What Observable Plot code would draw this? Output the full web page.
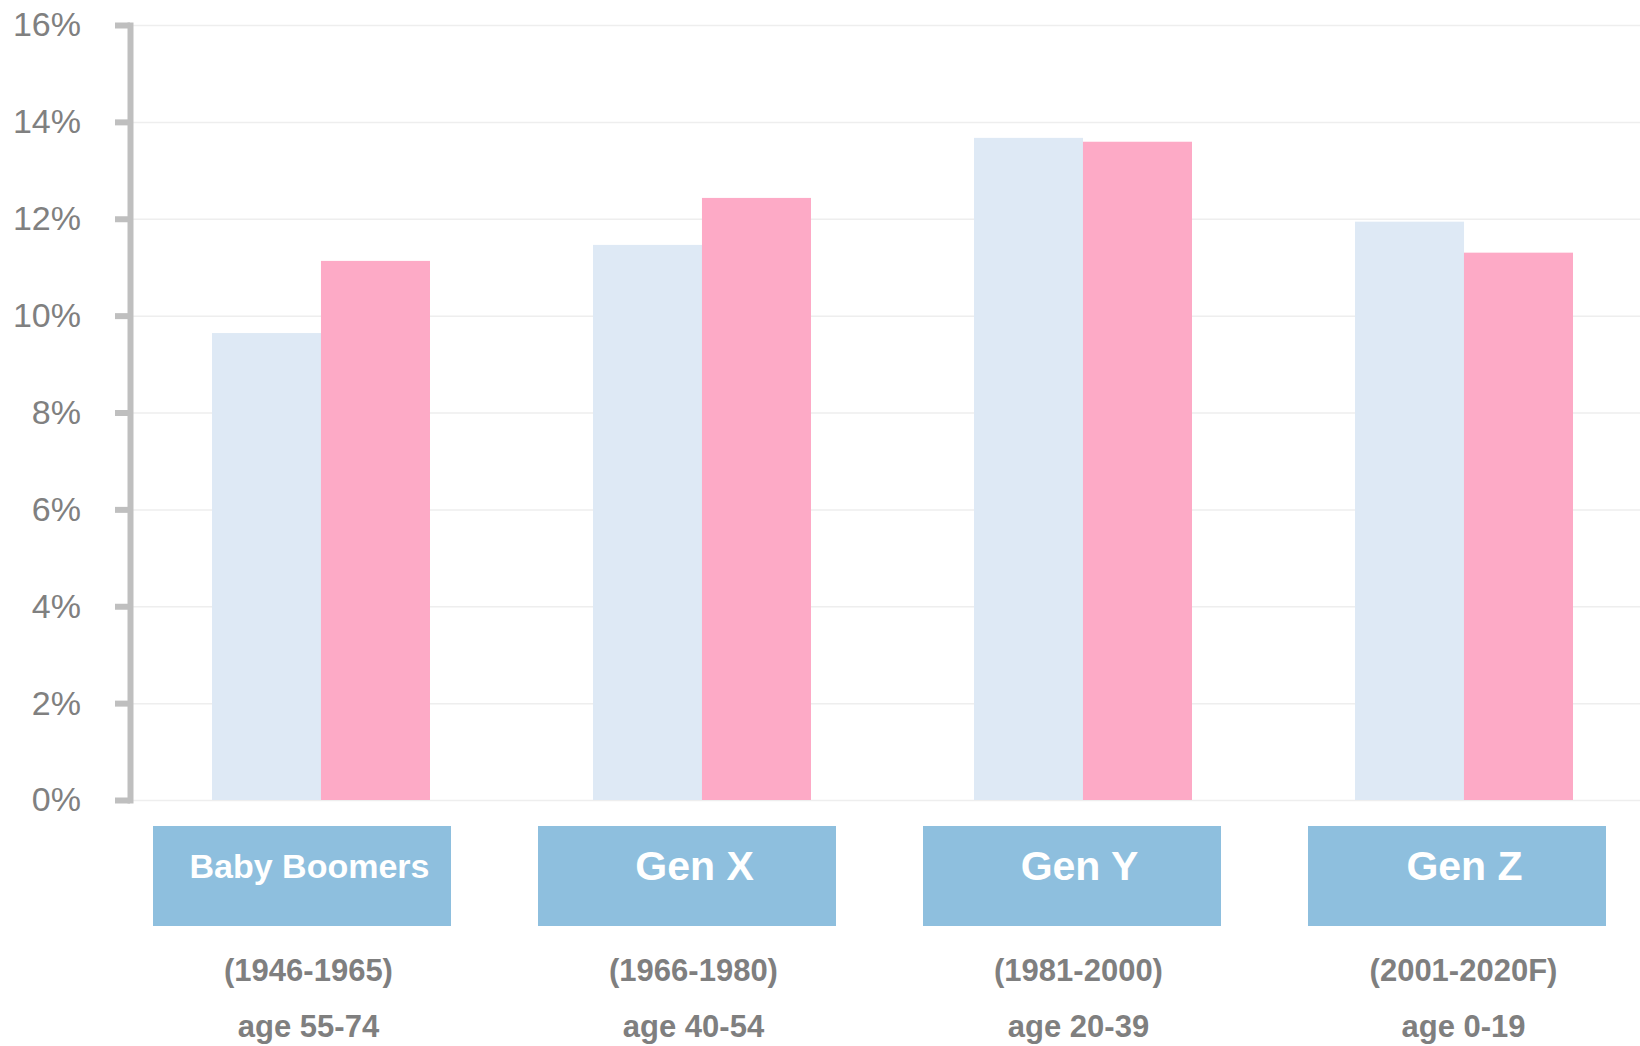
<!DOCTYPE html>
<html><head><meta charset="utf-8">
<script src="https://cdn.jsdelivr.net/npm/d3@7"></script>
<script src="https://cdn.jsdelivr.net/npm/@observablehq/plot@0.6"></script>
<style>
html,body{margin:0;padding:0;background:#fff;}
#chart svg{display:block;}
</style></head><body><div id="chart"></div>
<script>
const generations = ["Baby Boomers", "Gen X", "Gen Y", "Gen Z"];
const periods = ["(1946-1965)", "(1966-1980)", "(1981-2000)", "(2001-2020F)"];
const ages = ["age 55-74", "age 40-54", "age 20-39", "age 0-19"];
const shareA = [9.64, 11.46, 13.67, 11.94];
const shareB = [11.13, 12.43, 13.59, 11.30];
const yTicks = [0, 2, 4, 6, 8, 10, 12, 14, 16];

const rows = generations.map((g, i) => ({gen: g, a: shareA[i], b: shareB[i], period: periods[i], age: ages[i]}));

const font = "'Liberation Sans', Arial, Helvetica, sans-serif";
const xBars = {type: "band", domain: generations, range: [130.5, 1654.5], paddingInner: 0.428, paddingOuter: 0.214, axis: null};
const half = Plot.scale({x: xBars}).bandwidth / 2;

const topPlot = Plot.plot({
  width: 1640, height: 820,
  marginLeft: 130, marginRight: 0, marginTop: 25, marginBottom: 20,
  style: {fontFamily: font, background: "transparent"},
  x: xBars,
  y: {domain: [0, 16]},
  marks: [
    Plot.gridY(yTicks, {stroke: "#eeeeee", strokeOpacity: 1, strokeWidth: 1.5}),
    Plot.barY(rows, {x: "gen", y: "a", fill: "#dee9f5", insetRight: half}),
    Plot.barY(rows, {x: "gen", y: "b", fill: "#fdaac6", insetLeft: half}),
    Plot.frame({anchor: "left", stroke: "#bfbfbf", strokeWidth: 6}),
    Plot.axisY(yTicks, {anchor: "left", tickSize: 15, tickPadding: 34.5, stroke: "#bfbfbf", strokeWidth: 6,
      fill: "#808080", fontSize: 34, tickFormat: d => d + "%", label: null})
  ]
});

const xLabels = {type: "band", domain: generations, range: [108.55, 1650.55], paddingInner: 0.227, paddingOuter: 0.1135, axis: null};
const bottomPlot = Plot.plot({
  width: 1640, height: 226,
  marginLeft: 0, marginRight: 0, marginTop: 6, marginBottom: 120,
  style: {fontFamily: font, background: "transparent"},
  x: xLabels,
  marks: [
    Plot.cell(rows, {x: "gen", fill: "#8ebfde"}),
    Plot.text(rows, {x: "gen", text: "gen", frameAnchor: "top", lineAnchor: "middle", dy: 40.5, dx: 7, fill: "white",
      fontWeight: "bold", fontSize: d => d.gen.length > 6 ? 34 : 41}),
    Plot.text(rows, {x: "gen", text: "period", frameAnchor: "bottom", lineAnchor: "middle", dy: 44.5, dx: 6, fill: "#7f7f7f",
      fontWeight: "bold", fontSize: 31}),
    Plot.text(rows, {x: "gen", text: "age", frameAnchor: "bottom", lineAnchor: "middle", dy: 100.75, dx: 6, fill: "#7f7f7f",
      fontWeight: "bold", fontSize: 31})
  ]
});

const chart = document.getElementById("chart");
chart.appendChild(topPlot);
chart.appendChild(bottomPlot);
</script>
</body></html>
